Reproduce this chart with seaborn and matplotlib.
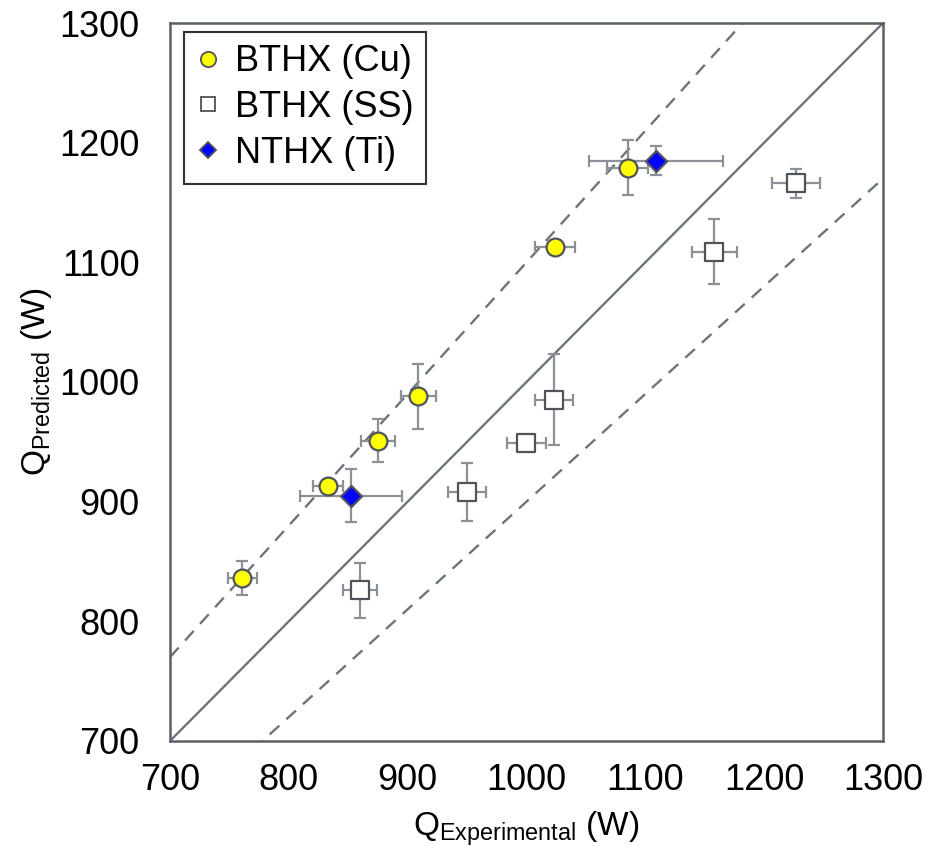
import numpy as np
import pandas as pd
import matplotlib
matplotlib.use("Agg")
import matplotlib.pyplot as plt
from matplotlib.lines import Line2D
import seaborn as sns

# ---- data ----
series = ["BTHX (Cu)", "BTHX (SS)", "NTHX (Ti)"]

cu_x = [761, 833, 875, 909, 1024, 1085]
cu_y = [836, 913, 951, 988, 1113, 1179]
cu_xerr = [12, 13, 14, 15, 17, 17]
cu_yerr = [14, 5, 18, 27, 4, 23]

ss_x = [860, 950, 1000, 1023, 1158, 1227]
ss_y = [826, 908, 949, 985, 1109, 1166]
ss_xerr = [14, 16, 16, 16, 19, 20]
ss_yerr = [23, 24, 4, 38, 27, 12]

ti_x = [852, 1109]
ti_y = [905, 1185]
ti_xerr = [43, 56]
ti_yerr = [22, 12]

ticks = [700, 800, 900, 1000, 1100, 1200, 1300]

df = pd.DataFrame({
    "x": cu_x + ss_x + ti_x,
    "y": cu_y + ss_y + ti_y,
    "xerr": cu_xerr + ss_xerr + ti_xerr,
    "yerr": cu_yerr + ss_yerr + ti_yerr,
    "series": [series[0]] * len(cu_x) + [series[1]] * len(ss_x) + [series[2]] * len(ti_x),
})

# ---- style ----
sns.set_theme(style="white")
plt.rcParams["font.family"] = ["Liberation Sans", "DejaVu Sans"]
plt.rcParams["mathtext.fontset"] = "custom"
plt.rcParams["mathtext.rm"] = "Liberation Sans"
plt.rcParams["mathtext.default"] = "regular"
plt.rcParams["text.color"] = "black"
plt.rcParams["axes.labelcolor"] = "black"

frame_c = "#5a6068"
line_c = "#6e747b"
err_c = "#8b9197"
edge_c = "#4f545a"

fig = plt.figure(figsize=(9.33, 8.65), dpi=100)
ax = fig.add_axes([0.1822, 0.1434, 0.7642, 0.8300])

# reference lines
lims = np.array([700, 1300])
ax.plot(lims, lims, color=line_c, lw=1.7, zorder=1)
ax.plot(lims, 1.1 * lims, color=line_c, lw=1.7, ls=(0, (5.5, 4)), zorder=1)
ax.plot(lims, 0.9 * lims, color=line_c, lw=1.7, ls=(0, (5.5, 4)), zorder=1)

# error bars
ax.errorbar(df["x"], df["y"], xerr=df["xerr"], yerr=df["yerr"], fmt="none",
            ecolor=err_c, elinewidth=1.6, capsize=4.5, capthick=1.6, zorder=2)

palette = {series[0]: "#ffff00", series[1]: "#ffffff", series[2]: "#0000ff"}
markers = {series[0]: "o", series[1]: "s", series[2]: "D"}
sizes = {series[0]: 165, series[1]: 165, series[2]: 115}

for s in series:
    sub = df[df["series"] == s]
    sns.scatterplot(data=sub, x="x", y="y", color=palette[s], marker=markers[s],
                    s=sizes[s], edgecolor=edge_c, linewidth=1.6, ax=ax,
                    zorder=3, legend=False)

ax.set_xlim(700, 1300)
ax.set_ylim(700, 1300)
ax.set_xticks(ticks)
ax.set_yticks(ticks)
ax.set_xticklabels([str(t) for t in ticks])
ax.set_yticklabels([str(t) for t in ticks])
ax.tick_params(axis="both", direction="in", length=5, width=1.2, color=frame_c,
               labelsize=26, labelcolor="black")
ax.tick_params(axis="x", pad=16)
ax.tick_params(axis="y", pad=22)

for sp in ax.spines.values():
    sp.set_visible(True)
    sp.set_color(frame_c)
    sp.set_linewidth(1.8)

ax.set_xlabel(r"Q$_{Experimental}$ (W)", fontsize=24, labelpad=8, color="black")
ax.set_ylabel(r"Q$_{Predicted}$ (W)", fontsize=24, labelpad=4, color="black")

handles = [
    Line2D([], [], ls="none", marker="o", markersize=11, markerfacecolor="#ffff00",
           markeredgecolor=edge_c, markeredgewidth=1.3),
    Line2D([], [], ls="none", marker="s", markersize=10.5, markerfacecolor="#ffffff",
           markeredgecolor=edge_c, markeredgewidth=1.3),
    Line2D([], [], ls="none", marker="D", markersize=8.5, markerfacecolor="#0000ff",
           markeredgecolor=edge_c, markeredgewidth=1.3),
]
leg = ax.legend(handles, series, loc="upper left", bbox_to_anchor=(0.02, 0.988),
                fontsize=26, frameon=True, fancybox=False, edgecolor="black",
                handlelength=0.6, handletextpad=0.45, borderpad=0.35,
                labelspacing=0.3, borderaxespad=0.0, labelcolor="black")
leg.get_frame().set_linewidth(1.5)

fig.savefig("out.png", dpi=100)
